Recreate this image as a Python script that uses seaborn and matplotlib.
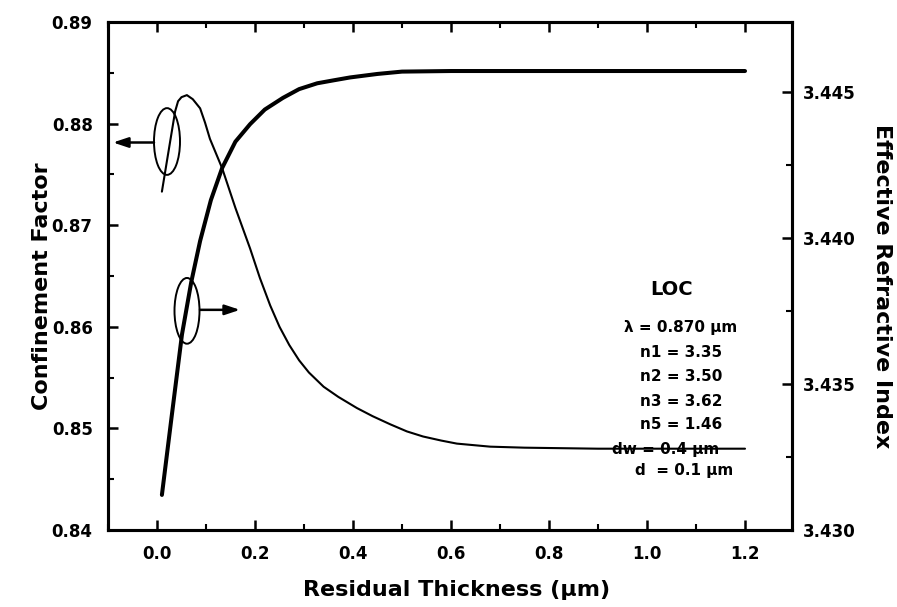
import numpy as np
import pandas as pd
import matplotlib
matplotlib.use("Agg")
import matplotlib.pyplot as plt
import seaborn as sns
from matplotlib.patches import Ellipse
from matplotlib.ticker import MultipleLocator, FormatStrFormatter

# ---- data ----
cf_x = [0.01, 0.025, 0.037, 0.043, 0.05, 0.061, 0.073, 0.088, 0.098, 0.108, 0.133, 0.16, 0.19,
        0.21, 0.231, 0.25, 0.27, 0.29, 0.31, 0.34, 0.37, 0.408, 0.44, 0.476, 0.51, 0.543,
        0.58, 0.612, 0.68, 0.75, 0.9, 1.2]
cf_y = [0.8733, 0.8777, 0.8812, 0.8822, 0.8826, 0.8828, 0.8824, 0.8815, 0.8801, 0.8785, 0.8756, 0.8717, 0.8677,
        0.8648, 0.8621, 0.8600, 0.8582, 0.8567, 0.8555, 0.8541, 0.8531, 0.8520, 0.8512, 0.8504, 0.8497, 0.8492,
        0.8488, 0.8485, 0.8482, 0.8481, 0.8480, 0.8480]

neff_x = [0.01, 0.03, 0.051, 0.07, 0.088, 0.11, 0.133, 0.16, 0.19, 0.22, 0.257, 0.29,
          0.327, 0.36, 0.394, 0.45, 0.5, 0.6, 0.8, 1.0, 1.2]
neff_y = [3.4312, 3.4339, 3.4367, 3.4385, 3.4399, 3.4413, 3.4424, 3.4433, 3.4439, 3.4444,
          3.4448, 3.4451, 3.4453, 3.4454, 3.4455, 3.44562, 3.4457, 3.44572, 3.44572, 3.44572, 3.44572]

x_ticks = [0.0, 0.2, 0.4, 0.6, 0.8, 1.0, 1.2]
left_ticks = [0.84, 0.85, 0.86, 0.87, 0.88, 0.89]
right_ticks = [3.430, 3.435, 3.440, 3.445]

params = ["LOC", "\u03bb = 0.870 \u00b5m", "n1 = 3.35", "n2 = 3.50", "n3 = 3.62",
          "n5 = 1.46", "dw = 0.4 \u00b5m", "d  = 0.1 \u00b5m"]

cf_df = pd.DataFrame({"x": cf_x, "y": cf_y})
ne_df = pd.DataFrame({"x": neff_x, "y": neff_y})

sns.set_style("ticks")
plt.rcParams["font.family"] = ["DejaVu Sans"]
plt.rcParams["font.weight"] = "bold"
for k in ("text.color", "axes.labelcolor", "xtick.color", "ytick.color", "axes.edgecolor"):
    plt.rcParams[k] = "black"

fig = plt.figure(figsize=(8.97, 6.07), dpi=100)
ax = fig.add_axes([0.1204, 0.1269, 0.7626, 0.8369])
ax2 = ax.twinx()

sns.lineplot(data=cf_df, x="x", y="y", ax=ax, color="black", linewidth=1.5)
sns.lineplot(data=ne_df, x="x", y="y", ax=ax2, color="black", linewidth=2.9)

ax.set_xlim(-0.1, 1.296)
ax.set_ylim(0.84, 0.89)
ax2.set_ylim(3.430, 3.4474)

ax.set_xticks(x_ticks)
ax.xaxis.set_minor_locator(MultipleLocator(0.1))
ax.set_yticks(left_ticks)
ax.yaxis.set_minor_locator(MultipleLocator(0.005))
ax.yaxis.set_major_formatter(FormatStrFormatter("%.2f"))
ax2.set_yticks(right_ticks)
ax2.yaxis.set_minor_locator(MultipleLocator(0.0025))
ax2.yaxis.set_major_formatter(FormatStrFormatter("%.3f"))

for a in (ax, ax2):
    for s in a.spines.values():
        s.set_linewidth(2.2)
        s.set_color("black")

ax.tick_params(axis="x", which="both", direction="in", top=True, bottom=True,
               labelsize=12, pad=11, colors="black")
ax.tick_params(axis="y", which="both", direction="in", left=True, right=False,
               labelsize=12, pad=11, colors="black")
ax2.tick_params(axis="y", which="both", direction="in", right=True, left=False,
                labelsize=12, pad=8, colors="black")
for a in (ax, ax2):
    a.tick_params(which="major", length=7, width=1.8)
    a.tick_params(which="minor", length=4, width=1.5)
for lab in ax.get_xticklabels() + ax.get_yticklabels() + ax2.get_yticklabels():
    lab.set_fontweight("bold")

ax.set_xlabel("Residual Thickness (\u00b5m)", fontsize=16, fontweight="bold",
              color="black", va="center")
ax.set_ylabel("Confinement Factor", fontsize=16, fontweight="bold", color="black",
              va="center")
ax2.set_ylabel("Effective Refractive Index", fontsize=16, fontweight="bold",
               rotation=270, va="center", color="black")
ax.xaxis.set_label_coords(0.51, -0.118)
ax.yaxis.set_label_coords(-0.096, 0.48)
ax2.yaxis.set_label_coords(1.131, 0.48)

# ---- ellipses and arrows ----
def px2data(px, py):
    return (px - 157) / 490.0, 0.84 + (530 - py) / 102.0 * 0.01

cx, cy = px2data(167, 140)
ax.add_patch(Ellipse((cx, cy), 26 / 490.0, 67 / 102.0 * 0.01, fill=False,
                     edgecolor="black", linewidth=1.4, zorder=5))
x0, y0 = px2data(154, 141)
x1, _ = px2data(113, 141)
ax.annotate("", xy=(x1, y0), xytext=(x0, y0),
            arrowprops=dict(arrowstyle="-|>,head_length=0.9,head_width=0.3",
                            color="black", lw=1.8, shrinkA=0, shrinkB=0))

cx, cy = px2data(187, 310)
ax.add_patch(Ellipse((cx, cy), 25 / 490.0, 66 / 102.0 * 0.01, fill=False,
                     edgecolor="black", linewidth=1.4, zorder=5))
x0, y0 = px2data(200, 309)
x1, _ = px2data(240, 309)
ax.annotate("", xy=(x1, y0), xytext=(x0, y0),
            arrowprops=dict(arrowstyle="-|>,head_length=0.9,head_width=0.3",
                            color="black", lw=1.8, shrinkA=0, shrinkB=0))

# ---- parameter text ----
text_pos = [(672, 289, 14), (681, 327, 11), (681, 352, 11), (681, 376, 11),
            (681, 401, 11), (681, 424, 11), (666, 449, 11), (684, 470, 11)]
for s, (px, py, fs) in zip(params, text_pos):
    tx, ty = px2data(px, py)
    ax.text(tx, ty, s, ha="center", va="center", fontsize=fs, fontweight="bold",
            color="black", zorder=6)

fig.savefig("out.png", dpi=100)
